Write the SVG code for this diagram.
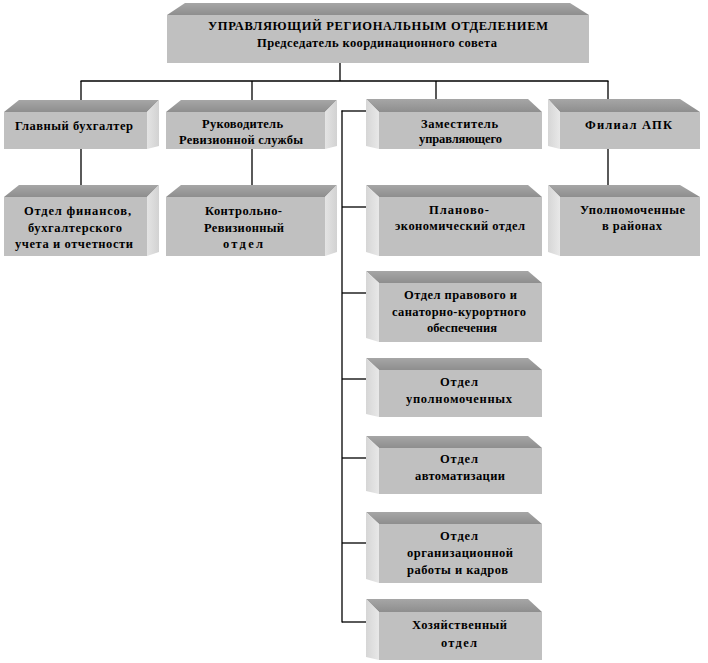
<svg xmlns="http://www.w3.org/2000/svg" width="708" height="663" viewBox="0 0 708 663">
<defs>
<linearGradient id="gTop" x1="0" y1="0" x2="0" y2="1"><stop offset="0" stop-color="#a6a6a6"/><stop offset="1" stop-color="#8e8e8e"/></linearGradient>
<linearGradient id="gSideR" x1="0" y1="0" x2="1" y2="0"><stop offset="0" stop-color="#e4e4e4"/><stop offset="1" stop-color="#d2d2d2"/></linearGradient>
<linearGradient id="gSideL" x1="0" y1="0" x2="1" y2="0"><stop offset="0" stop-color="#d6d6d6"/><stop offset="1" stop-color="#e8e8e8"/></linearGradient>
</defs>
<style>
.top{fill:url(#gTop)}
.sr{fill:url(#gSideR)}
.sl{fill:url(#gSideL)}
.front{fill:#c0c0c0}
text{font-family:"Liberation Serif","Times New Roman",serif;font-weight:bold;font-size:12.5px;fill:#000;text-anchor:middle}
.conn line{stroke:#000;stroke-width:1.3}
</style>
<rect width="708" height="663" fill="#fff"/>
<g class="conn">
<line x1="340" y1="62" x2="340" y2="81"/>
<line x1="80.5" y1="81" x2="608.5" y2="81"/>
<line x1="81" y1="81" x2="81" y2="100"/>
<line x1="252" y1="81" x2="252" y2="100"/>
<line x1="436" y1="81" x2="436" y2="99"/>
<line x1="608" y1="81" x2="608" y2="99"/>
<line x1="81" y1="149" x2="81" y2="185"/>
<line x1="252" y1="149" x2="252" y2="185"/>
<line x1="608" y1="149" x2="608" y2="185"/>
<line x1="342" y1="110.5" x2="342" y2="622.5"/>
<line x1="341.5" y1="111" x2="367" y2="111"/>
<line x1="342" y1="207" x2="367" y2="207"/>
<line x1="342" y1="293" x2="367" y2="293"/>
<line x1="342" y1="379" x2="367" y2="379"/>
<line x1="342" y1="458" x2="367" y2="458"/>
<line x1="342" y1="543" x2="367" y2="543"/>
<line x1="342" y1="622" x2="367" y2="622"/>
</g>
<g id="n-head">
<polygon class="top" points="185,3 570,3 589,15 167,15"/>
<rect class="front" x="167" y="15" width="422" height="48"/>
<text x="378" y="30" textLength="340" lengthAdjust="spacing">УПРАВЛЯЮЩИЙ РЕГИОНАЛЬНЫМ ОТДЕЛЕНИЕМ</text>
<text x="377" y="47" textLength="240" lengthAdjust="spacing">Председатель координационного совета</text>
</g>
<g id="n-buh">
<polygon class="top" points="19,100 159,100 147,112 4,112"/>
<polygon class="sr" points="147,112 159,100 159,146 147,149"/>
<rect class="front" x="4" y="112" width="143" height="37"/>
<text x="74" y="130" textLength="118" lengthAdjust="spacing">Главный бухгалтер</text>
</g>
<g id="n-rev">
<polygon class="top" points="181,100 337,100 325,112 166,112"/>
<polygon class="sr" points="325,112 337,100 337,146 325,149"/>
<rect class="front" x="166" y="112" width="159" height="37"/>
<text x="242.5" y="128" textLength="81" lengthAdjust="spacing">Руководитель</text>
<text x="241" y="144" textLength="124" lengthAdjust="spacing">Ревизионной службы</text>
</g>
<g id="n-zam">
<polygon class="top" points="366,99 528,99 542,112 379,112"/>
<polygon class="sl" points="366,99 379,112 379,149 366,146"/>
<rect class="front" x="379" y="112" width="163" height="37"/>
<text x="459.5" y="128" textLength="77" lengthAdjust="spacing">Заместитель</text>
<text x="460.5" y="143" textLength="83" lengthAdjust="spacing">управляющего</text>
</g>
<g id="n-apk">
<polygon class="top" points="548,99 680,99 700,112 560,112"/>
<polygon class="sl" points="548,99 560,112 560,149 548,146"/>
<rect class="front" x="560" y="112" width="140" height="37"/>
<text x="628.5" y="129" textLength="87" lengthAdjust="spacing">Филиал АПК</text>
</g>
<g id="n-fin">
<polygon class="top" points="19,185 159,185 147,197 4,197"/>
<polygon class="sr" points="147,197 159,185 159,252 147,256"/>
<rect class="front" x="4" y="197" width="143" height="59"/>
<text x="77.5" y="215" textLength="107" lengthAdjust="spacing">Отдел финансов,</text>
<text x="75" y="232" textLength="94" lengthAdjust="spacing">бухгалтерского</text>
<text x="74" y="248" textLength="118" lengthAdjust="spacing">учета и отчетности</text>
</g>
<g id="n-kro">
<polygon class="top" points="181,185 337,185 325,197 166,197"/>
<polygon class="sr" points="325,197 337,185 337,252 325,256"/>
<rect class="front" x="166" y="197" width="159" height="59"/>
<text x="243.5" y="215" textLength="77" lengthAdjust="spacing">Контрольно-</text>
<text x="244" y="232" textLength="80" lengthAdjust="spacing">Ревизионный</text>
<text x="243" y="248" textLength="40" lengthAdjust="spacing">отдел</text>
</g>
<g id="n-peo">
<polygon class="top" points="366,185 528,185 542,197 379,197"/>
<polygon class="sl" points="366,185 379,197 379,256 366,252"/>
<rect class="front" x="379" y="197" width="163" height="59"/>
<text x="459" y="214" textLength="60" lengthAdjust="spacing">Планово-</text>
<text x="460" y="230" textLength="130" lengthAdjust="spacing">экономический отдел</text>
</g>
<g id="n-upr">
<polygon class="top" points="548,185 680,185 700,197 560,197"/>
<polygon class="sl" points="548,185 560,197 560,256 548,252"/>
<rect class="front" x="560" y="197" width="140" height="59"/>
<text x="632.5" y="214" textLength="105" lengthAdjust="spacing">Уполномоченные</text>
<text x="632" y="230" textLength="60" lengthAdjust="spacing">в районах</text>
</g>
<g id="n-prav">
<polygon class="top" points="366,271 528,271 542,283 379,283"/>
<polygon class="sl" points="366,271 379,283 379,342 366,338"/>
<rect class="front" x="379" y="283" width="163" height="59"/>
<text x="460.5" y="299" textLength="113" lengthAdjust="spacing">Отдел правового и</text>
<text x="459" y="315.5" textLength="134" lengthAdjust="spacing">санаторно-курортного</text>
<text x="462" y="332" textLength="70" lengthAdjust="spacing">обеспечения</text>
</g>
<g id="n-upol">
<polygon class="top" points="366,358 528,358 542,370 379,370"/>
<polygon class="sl" points="366,358 379,370 379,417 366,414"/>
<rect class="front" x="379" y="370" width="163" height="47"/>
<text x="459" y="386" textLength="38" lengthAdjust="spacing">Отдел</text>
<text x="459" y="403" textLength="106" lengthAdjust="spacing">уполномоченных</text>
</g>
<g id="n-avt">
<polygon class="top" points="366,436 528,436 542,448 379,448"/>
<polygon class="sl" points="366,436 379,448 379,494 366,491"/>
<rect class="front" x="379" y="448" width="163" height="46"/>
<text x="459" y="463" textLength="38" lengthAdjust="spacing">Отдел</text>
<text x="460" y="480" textLength="90" lengthAdjust="spacing">автоматизации</text>
</g>
<g id="n-org">
<polygon class="top" points="366,512 528,512 542,524 379,524"/>
<polygon class="sl" points="366,512 379,524 379,583 366,579"/>
<rect class="front" x="379" y="524" width="163" height="59"/>
<text x="459" y="540" textLength="38" lengthAdjust="spacing">Отдел</text>
<text x="460" y="557" textLength="106" lengthAdjust="spacing">организационной</text>
<text x="457.5" y="574" textLength="101" lengthAdjust="spacing">работы и кадров</text>
</g>
<g id="n-hoz">
<polygon class="top" points="366,599 528,599 542,612 379,612"/>
<polygon class="sl" points="366,599 379,612 379,660 366,657"/>
<rect class="front" x="379" y="612" width="163" height="48"/>
<text x="459.5" y="629" textLength="95" lengthAdjust="spacing">Хозяйственный</text>
<text x="459" y="647" textLength="36" lengthAdjust="spacing">отдел</text>
</g>
</svg>
